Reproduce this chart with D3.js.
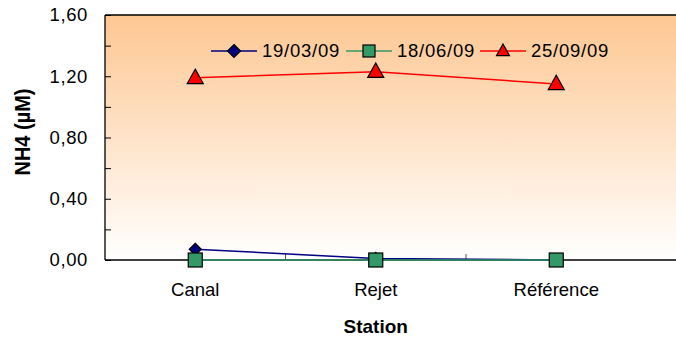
<!DOCTYPE html>
<html>
<head>
<meta charset="utf-8">
<script src="https://cdn.jsdelivr.net/npm/d3@7/dist/d3.min.js"></script>
<style>
  html, body { margin: 0; padding: 0; background: #fff; }
  svg { display: block; font-family: "Liberation Sans", Arial, sans-serif; }
</style>
</head>
<body>
<svg id="chart" width="676" height="340"></svg>
<script>
// Stations on the x axis
const stations = ["Canal", "Rejet", "Référence"];
// NH4 concentrations (µM) per sampling date
const dates = ["19/03/09", "18/06/09", "25/09/09"];
const serie1 = [0.07, 0.01, 0.00];
const serie2 = [0.00, 0.00, 0.00];
const serie3 = [1.19, 1.23, 1.15];
const yTicks = [0, 0.4, 0.8, 1.2, 1.6];
const yMinorTicks = [0.2, 0.6, 1.0, 1.4];

const series = [
  { name: dates[0], values: serie1, line: "#000080", fill: "#000080", shape: "diamond" },
  { name: dates[1], values: serie2, line: "#339966", fill: "#339966", shape: "square" },
  { name: dates[2], values: serie3, line: "#ff0000", fill: "#ff0000", shape: "triangle" }
];

const svg = d3.select("#chart");
const plotLeft = 105, plotTop = 15, plotBottom = 260, band = 180.5;

const x = d3.scaleBand().domain(stations).range([plotLeft, plotLeft + band * stations.length]);
const y = d3.scaleLinear().domain([0, 1.6]).range([plotBottom, plotTop]);
const fr = d3.formatLocale({ decimal: ",", thousands: " ", grouping: [3], currency: ["", "€"] });
const fmt = fr.format(".2f");

// Plot background gradient
const defs = svg.append("defs");
const grad = defs.append("linearGradient").attr("id", "bg")
  .attr("x1", 0).attr("y1", 0).attr("x2", 0).attr("y2", 1);
grad.append("stop").attr("offset", "0%").attr("stop-color", "#fdc792");
grad.append("stop").attr("offset", "100%").attr("stop-color", "#ffffff");

svg.append("rect")
  .attr("x", plotLeft).attr("y", plotTop)
  .attr("width", 700 - plotLeft).attr("height", plotBottom - plotTop)
  .attr("fill", "url(#bg)");

// Frame: top and left edges
svg.append("path")
  .attr("d", `M${plotLeft},${plotTop}H700M${plotLeft},${plotTop}V${plotBottom}`)
  .attr("stroke", "#000").attr("stroke-width", 1.3).attr("fill", "none");

// Y axis
const yAxis = svg.append("g").attr("transform", `translate(${plotLeft},0)`)
  .call(d3.axisLeft(y).tickValues(yTicks).tickFormat(fmt).tickSizeInner(-6).tickSizeOuter(0).tickPadding(17));
yAxis.select(".domain").remove();
yAxis.selectAll(".tick line").attr("stroke", "#000");
yAxis.selectAll("text").attr("font-size", 18.5).attr("letter-spacing", 0.6).attr("fill", "#000");

svg.append("g").attr("transform", `translate(${plotLeft},0)`)
  .call(d3.axisLeft(y).tickValues(yMinorTicks).tickFormat("").tickSizeInner(-6).tickSizeOuter(0))
  .call(g => g.select(".domain").remove())
  .selectAll(".tick line").attr("stroke", "#000");

// X axis with inner category separators
const sepTicks = stations.slice(1).map(s => x(s));
svg.append("g").selectAll("line").data(sepTicks).join("line")
  .attr("x1", d => d).attr("x2", d => d)
  .attr("y1", plotBottom).attr("y2", plotBottom - 6)
  .attr("stroke", "#555");
svg.append("line")
  .attr("x1", plotLeft).attr("x2", 700).attr("y1", plotBottom).attr("y2", plotBottom)
  .attr("stroke", "#000").attr("stroke-width", 1.3);

const xAxis = svg.append("g").attr("transform", `translate(0,${plotBottom})`)
  .call(d3.axisBottom(x).tickSize(0).tickPadding(23));
xAxis.select(".domain").remove();
xAxis.selectAll("text").attr("font-size", 18.5).attr("fill", "#000");

// Axis titles
svg.append("text")
  .attr("x", x("Rejet") + x.bandwidth() / 2).attr("y", 333)
  .attr("text-anchor", "middle").attr("font-size", 19).attr("font-weight", "bold")
  .text("Station");
svg.append("text")
  .attr("transform", "translate(30,132) rotate(-90) scale(1,1.12)")
  .attr("text-anchor", "middle").attr("font-size", 20).attr("font-weight", "bold")
  .text("NH4 (µM)");

// Marker shapes
function marker(sel, shape, s) {
  if (shape === "square") {
    sel.append("rect").attr("x", -s / 2).attr("y", -s / 2).attr("width", s).attr("height", s);
  } else if (shape === "diamond") {
    sel.append("path").attr("d", `M0,${-s / 2}L${s / 2},0L0,${s / 2}L${-s / 2},0Z`);
  } else {
    const h = s * 0.9;
    sel.append("path").attr("d", `M0,${-h * 0.6}L${s / 2},${h * 0.4}L${-s / 2},${h * 0.4}Z`);
  }
}

const cx = s => x(s) + x.bandwidth() / 2;
const line = d3.line().x((d, i) => cx(stations[i])).y(d => y(d));

series.forEach(sr => {
  svg.append("path").datum(sr.values)
    .attr("d", line).attr("fill", "none")
    .attr("stroke", sr.line).attr("stroke-width", 1.5);
  const size = sr.shape === "square" ? 14 : (sr.shape === "triangle" ? 16 : 12);
  sr.values.forEach((v, i) => {
    const g = svg.append("g").attr("transform", `translate(${cx(stations[i])},${y(v)})`)
      .attr("fill", sr.fill).attr("stroke", "#000").attr("stroke-width", 1.2);
    marker(g, sr.shape, size);
  });
});

// Legend
const legendX = [211, 346, 480];
series.forEach((sr, i) => {
  const lg = svg.append("g").attr("transform", `translate(${legendX[i]},51)`);
  lg.append("line").attr("x1", 0).attr("x2", 46).attr("y1", 0).attr("y2", 0)
    .attr("stroke", sr.line).attr("stroke-width", 1.5);
  const m = lg.append("g").attr("transform", "translate(23,0)")
    .attr("fill", sr.fill).attr("stroke", "#000").attr("stroke-width", 1.2);
  marker(m, sr.shape, sr.shape === "square" ? 12 : 13);
  lg.append("text").attr("x", 51).attr("y", 5.5).attr("font-size", 18.5)
    .attr("letter-spacing", 0.75).text(sr.name);
});
</script>
</body>
</html>
